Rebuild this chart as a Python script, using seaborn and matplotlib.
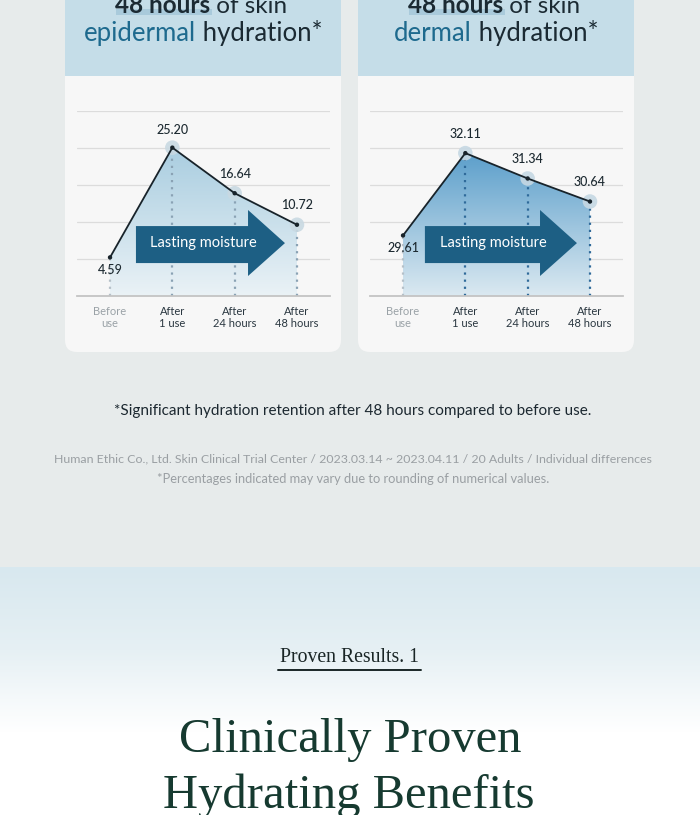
"""Skin hydration infographic: before / after use, epidermal vs dermal."""

import numpy as np
import pandas as pd
import seaborn as sns
import matplotlib.pyplot as plt
from matplotlib.patches import Rectangle, FancyBboxPatch, Polygon
from matplotlib.colors import LinearSegmentedColormap

stages = ["Before\nuse", "After\n1 use", "After\n24 hours", "After\n48 hours"]
epidermal = [4.59, 25.20, 16.64, 10.72]
dermal = [29.61, 32.11, 31.34, 30.64]
label_offsets = {  # value-label offsets (points) relative to each point
    "epidermal": [(0, -9), (0, 13), (0, 14), (0, 14)],
    "dermal": [(0, -9), (0, 14), (0, 14), (0, 14)],
}

sns.set_theme(style="white")
plt.rcParams["font.family"] = ["Lato", "DejaVu Sans"]

W, H = 700, 815
fig = plt.figure(figsize=(W / 100, H / 100), dpi=100)

# ---- background canvas in pixel coordinates ----
bg = fig.add_axes([0, 0, 1, 1])
bg.set_xlim(0, W)
bg.set_ylim(H, 0)
bg.axis("off")
bg.add_patch(Rectangle((0, 0), W, 567, color="#e7ebeb", zorder=0))
grad = np.linspace(0, 1, 256).reshape(-1, 1)
sky = LinearSegmentedColormap.from_list("sky", ["#d8e8ef", "#e6f0f4", "#ffffff", "#ffffff"])
bg.imshow(grad, cmap=sky, extent=[0, W, H, 567], aspect="auto", zorder=0)

DARK = "#1b2a33"
TEAL = "#1e6a8e"


def seg_text(ax, cx, y, parts, size):
    """Draw a centred line made of (text, color, weight) pieces."""
    r = fig.canvas.get_renderer()
    objs, total = [], 0
    for s, c, w in parts:
        t = ax.text(0, y, s, color=c, fontweight=w, fontsize=size, va="baseline", zorder=5)
        wpx = t.get_window_extent(r).width
        objs.append((t, wpx))
        total += wpx
    x = cx - total / 2
    for t, wpx in objs:
        t.set_x(x)
        x += wpx


cards = [(65, "epidermal"), (358, "dermal")]
for x0, word in cards:
    card = FancyBboxPatch((x0, -30), 276, 382, boxstyle="round,pad=0,rounding_size=12",
                          fc="#f7f7f7", ec="none", zorder=1)
    bg.add_patch(card)
    hdr = Rectangle((x0, -30), 276, 106, fc="#c5dde8", ec="none", zorder=2)
    hdr.set_clip_path(card)
    bg.add_patch(hdr)
    cx = x0 + 138
    bg.add_patch(Rectangle((cx - 87, 9), 96, 6, fc="#a9cadb", ec="none", zorder=3))
    seg_text(bg, cx - 2, 13, [("48 hours", DARK, "bold"), (" of skin", DARK, "normal")], 17.5)
    seg_text(bg, cx, 41, [(word, TEAL, "normal"), (" hydration*", DARK, "normal")], 18.5)

# ---- the two charts ----
charts = [
    dict(vals=epidermal, key="epidermal", left=77, ylim=(-2.66, 32.08),
         top="#a9cde0", bottom="#eaf2f6", dots="#8aa2b4", halo="#c9d9e2", arrow_x=(0.233, 0.676, 0.822)),
    dict(vals=dermal, key="dermal", left=370, ylim=(27.77, 33.39),
         top="#5c9fcb", bottom="#dbe9f1", dots="#2f6a9a", halo="#c6d8e3", arrow_x=(0.217, 0.672, 0.818)),
]

for ch in charts:
    ax = fig.add_axes([ch["left"] / W, (H - 296) / H, 253 / W, 185 / H])
    ax.patch.set_alpha(0)
    lo, hi = ch["ylim"]
    ax.set_xlim(-0.53, 3.53)
    ax.set_ylim(lo, hi)
    df = pd.DataFrame({"x": range(len(stages)), "v": ch["vals"]})

    ax.set_yticks(np.linspace(lo, hi, 6))
    ax.yaxis.grid(True, color="#dcdcdc", lw=0.9)
    ax.set_axisbelow(True)
    for s in ["top", "right", "left"]:
        ax.spines[s].set_visible(False)
    ax.spines["bottom"].set_color("#c4c4c4")
    ax.spines["bottom"].set_linewidth(1.3)
    ax.tick_params(left=False, labelleft=False, bottom=False, pad=1)
    ax.set_xticks(range(len(stages)))
    ax.set_xticklabels(stages, fontsize=8, linespacing=1.15)
    for i, tl in enumerate(ax.get_xticklabels()):
        tl.set_color("#9aa2a7" if i == 0 else "#2a3740")

    # gradient fill under the line
    poly = ax.fill_between(df["x"], df["v"], lo, color="none", zorder=1)
    cmap = LinearSegmentedColormap.from_list("f", [ch["bottom"], ch["top"]])
    im = ax.imshow(np.linspace(0, 1, 256).reshape(-1, 1), cmap=cmap, origin="lower",
                   extent=[0, 3, lo, max(ch["vals"])], aspect="auto", zorder=1)
    im.set_clip_path(poly.get_paths()[0], transform=ax.transData)

    # dotted drop lines
    for i, v in enumerate(ch["vals"]):
        ax.vlines(i, lo, v, colors="#b5c0c8" if i == 0 else ch["dots"],
                  linestyles=(0, (1, 2.2)), lw=1.6, zorder=2)

    # arrow
    a0, a1, a2 = ch["arrow_x"]
    arrow = Polygon([(a0, 0.178), (a1, 0.178), (a1, 0.108), (a2, 0.286),
                     (a1, 0.465), (a1, 0.378), (a0, 0.378)],
                    closed=True, transform=ax.transAxes, fc="#1d5f84", ec="none", zorder=3)
    ax.add_patch(arrow)
    ax.text((a0 + a1) / 2 + 0.045, 0.286, "Lasting moisture", transform=ax.transAxes,
            color="white", fontsize=10.5, ha="center", va="center", zorder=4)

    sns.scatterplot(data=df.iloc[1:], x="x", y="v", s=110, color=ch["halo"],
                    edgecolor="none", alpha=0.9, ax=ax, zorder=4, legend=False)
    sns.lineplot(data=df, x="x", y="v", color="#18232a", lw=1.3, ax=ax, zorder=5)
    sns.scatterplot(data=df, x="x", y="v", s=10, color="#18232a",
                    edgecolor="none", ax=ax, zorder=6, legend=False)
    ax.set_xlabel("")
    ax.set_ylabel("")

    for i, v in enumerate(ch["vals"]):
        dx, dy = label_offsets[ch["key"]][i]
        ax.annotate(f"{v:.2f}", (i, v), xytext=(dx, dy), textcoords="offset points",
                    ha="center", va="center", fontsize=9, color="#1d2a31",
                    fontweight="medium", zorder=7)

# ---- footnotes ----
bg.text(353, 411, "*Significant hydration retention after 48 hours compared to before use.",
        ha="center", va="center", fontsize=11, color="#1c2830")
bg.text(353, 459, "Human Ethic Co., Ltd. Skin Clinical Trial Center / 2023.03.14 ~ 2023.04.11 "
        "/ 20 Adults / Individual differences", ha="center", va="center",
        fontsize=8.9, color="#9a9fa3")
bg.text(353, 479, "*Percentages indicated may vary due to rounding of numerical values.",
        ha="center", va="center", fontsize=9.3, color="#9a9fa3")

# ---- bottom headline ----
SERIF = ["Liberation Serif", "DejaVu Serif"]
bg.text(349, 658, "Proven Results. 1", ha="center", va="center", fontsize=14.2,
        color="#1a2626", family=SERIF)
bg.plot([278, 421], [670, 670], color="#1a2626", lw=1.4)
bg.text(350, 752, "Clinically Proven", ha="center", va="baseline", fontsize=35,
        color="#163a30", family=SERIF)
bg.text(349, 808, "Hydrating Benefits", ha="center", va="baseline", fontsize=35,
        color="#163a30", family=SERIF)

fig.savefig("out.png", dpi=100)
